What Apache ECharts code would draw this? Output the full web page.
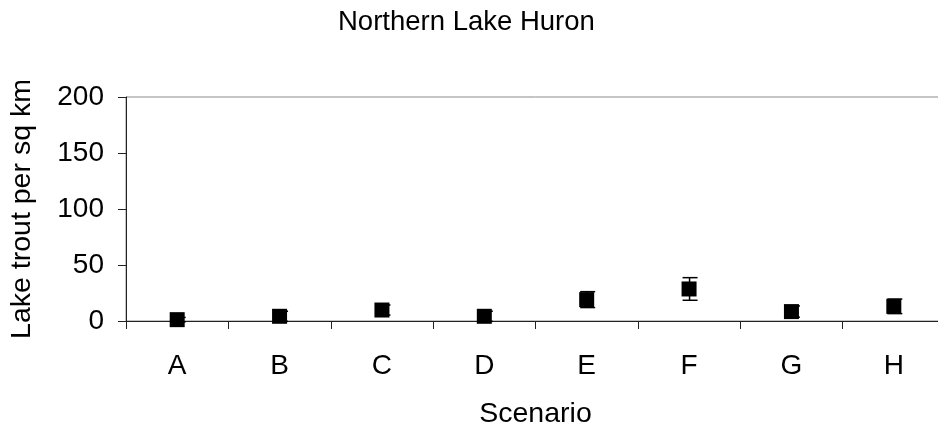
<!DOCTYPE html>
<html>
<head>
<meta charset="utf-8">
<script src="https://cdn.jsdelivr.net/npm/echarts@6/dist/echarts.min.js"></script>
<style>
  html, body { margin: 0; padding: 0; background: #fff; overflow: hidden; }
  /* plot runs a few px past the right edge in the original */
  #chart { width: 950px; height: 430px; }
</style>
</head>
<body>
<div id="chart"></div>
<script>
// scenario data
var scenarios = ['A', 'B', 'C', 'D', 'E', 'F', 'G', 'H'];
var troutDensity = [1.2, 4.2, 9.8, 4.2, 19.1, 28.6, 8.4, 13.1];
var troutError = [2, 4.5, 4.5, 4.5, 7.1, 10.1, 5, 6.5];
var yTicks = [0, 50, 100, 150, 200];

var chart = echarts.init(document.getElementById('chart'), null, { renderer: 'canvas' });

var font = "'Liberation Sans', Arial, sans-serif";

// error bar rows: [index, low, high]
var errData = troutDensity.map(function (v, i) {
  return [i, v - troutError[i], v + troutError[i]];
});

function renderErr(params, api) {
  var idx = api.value(0);
  var lo = api.coord([idx, api.value(1)]);
  var hi = api.coord([idx, api.value(2)]);
  var x = hi[0] + 0.5;
  var style = { stroke: '#000', lineWidth: 1.5 };
  return {
    type: 'group',
    children: [
      { type: 'line', shape: { x1: x, y1: hi[1], x2: x, y2: lo[1] }, style: style },
      { type: 'line', shape: { x1: x - 7, y1: hi[1], x2: x + 8, y2: hi[1] }, style: style },
      { type: 'line', shape: { x1: x - 7, y1: lo[1], x2: x + 8, y2: lo[1] }, style: style }
    ]
  };
}

var option = {
  backgroundColor: '#fff',
  animation: false,
  textStyle: { fontFamily: font },
  title: {
    text: 'Northern Lake Huron',
    left: 338,
    top: 8,
    padding: 0,
    textStyle: { fontFamily: font, fontSize: 27.5, fontWeight: 'normal', color: '#000' }
  },
  grid: {
    left: 126,
    top: 97,
    width: 819,
    height: 224,
    outerBoundsMode: 'none',
    show: true,
    borderColor: '#8a8a8a',
    borderWidth: 1
  },
  xAxis: {
    type: 'category',
    data: scenarios,
    boundaryGap: true,
    name: 'Scenario',
    nameLocation: 'middle',
    nameGap: 79,
    nameTextStyle: { fontFamily: font, fontSize: 28.5, color: '#000', verticalAlign: 'top' },
    axisLine: { show: true, lineStyle: { color: '#222', width: 1 } },
    axisTick: { show: true, length: 8, lineStyle: { color: '#222' } },
    axisLabel: { fontFamily: font, fontSize: 28, color: '#000', margin: 31 },
    splitLine: { show: false }
  },
  yAxis: {
    type: 'value',
    min: yTicks[0],
    max: yTicks[yTicks.length - 1],
    interval: 50,
    name: 'Lake trout per sq km',
    nameLocation: 'middle',
    nameGap: 89,
    nameTextStyle: { fontFamily: font, fontSize: 28.5, color: '#000' },
    axisLine: { show: true, lineStyle: { color: '#222', width: 1 } },
    axisTick: { show: true, length: 8, lineStyle: { color: '#222' } },
    axisLabel: { fontFamily: font, fontSize: 28, color: '#000', margin: 22 },
    splitLine: { show: false }
  },
  series: [
    {
      type: 'custom',
      name: 'error',
      renderItem: renderErr,
      data: errData,
      z: 2
    },
    {
      type: 'scatter',
      name: 'Lake trout',
      data: troutDensity,
      symbol: 'rect',
      symbolSize: 15,
      itemStyle: { color: '#000', opacity: 1 },
      z: 3
    }
  ]
};

chart.setOption(option);
</script>
</body>
</html>
